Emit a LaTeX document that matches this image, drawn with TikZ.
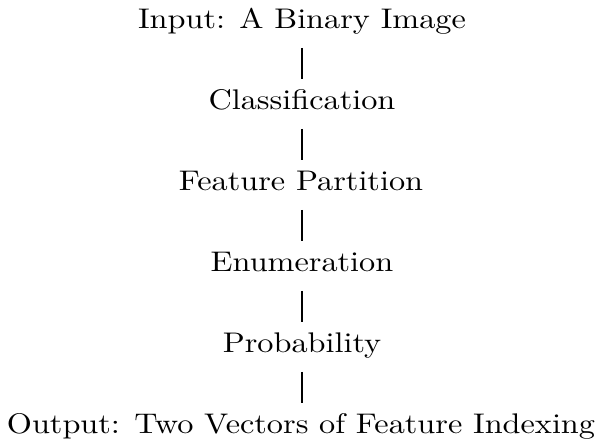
\documentclass[tikz,border=0pt]{standalone}
\begin{document}
\begin{tikzpicture}[x=0.5pt,y=-0.5pt,
  lbl/.style={anchor=base, inner sep=0pt, font=\fontsize{10}{12}\selectfont, xscale=1.614, yscale=1.42},
  conn/.style={line width=0.85pt}]
\useasboundingbox (0,0) rectangle (595,443);
\node[lbl] (in)  at (302,29)  {Input: A Binary Image};
\node[lbl] (cls) at (302,110) {Classification};
\node[lbl] (fp)  at (301,191) {Feature Partition};
\node[lbl] (en)  at (302,272) {Enumeration};
\node[lbl] (pr)  at (302,353) {Probability};
\node[lbl] (out) at (301,434) {Output: Two Vectors of Feature Indexing};
\foreach \a/\b in {in/cls,cls/fp,fp/en,en/pr,pr/out}
  \draw[conn] ([yshift=-9.5pt]\a.base -| 302,0) -- ([yshift=15.5pt]\b.base -| 302,0);
\end{tikzpicture}
\end{document}
